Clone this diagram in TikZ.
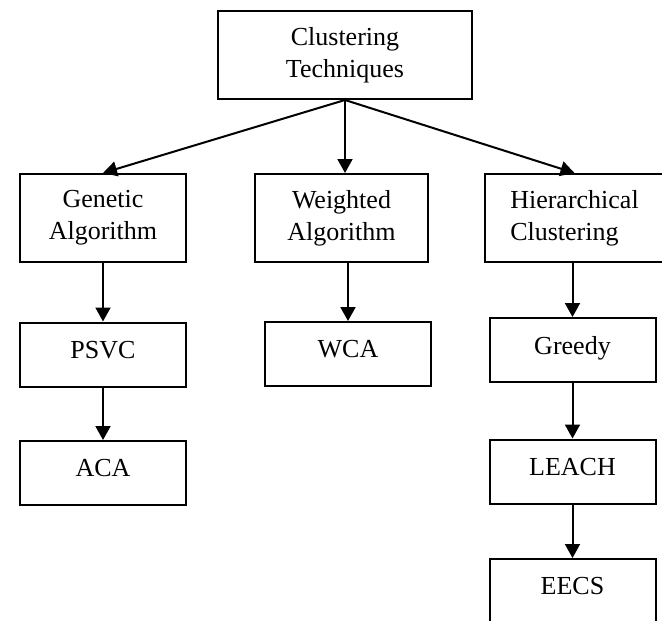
\documentclass[tikz,border=0pt]{standalone}
\usepackage{fontspec}
\setmainfont{Liberation Serif}
\usetikzlibrary{arrows.meta}
\begin{document}
\begin{tikzpicture}[x=1pt, y=-1pt,
    box/.style={draw, line width=2pt, inner sep=0pt, align=center,
        font=\fontsize{26}{32}\selectfont},
    onebox/.style={box, text depth=10pt, minimum height=\hSmall pt},
    arr/.style={line width=2pt, -{Triangle[length=14pt,width=15pt]}}]
    % --- 定义尺寸参数 ---
    \def\hBig{88}     % 两行方框的高度
    \def\hSmall{64}   % 单行方框的高度
    \def\wBox{166}    % 单行方框的宽度

    % --- 固定画布范围 ---
    \useasboundingbox (0,0) rectangle (662,621);

    % --- 顶层方框 ---
    \node[box, minimum width=254pt, minimum height=\hBig pt] (tech) at (345,55) {Clustering\\Techniques};

    % --- 第二层方框 ---
    \node[box, minimum width=\wBox pt, minimum height=\hBig pt] (gen) at (103,218) {Genetic\\Algorithm};
    \node[box, minimum width=173pt, minimum height=\hBig pt] (wgt) at (341.5,218) {Weighted\\Algorithm};
    % 右侧方框超出画布, 文字左对齐
    \node[box, align=left, minimum width=179pt, minimum height=\hBig pt] (hier) at (574.5,218) {Hierarchical\\Clustering};

    % --- 下层方框 ---
    \node[onebox, minimum width=\wBox pt] (psvc) at (103,354.5) {PSVC};
    \node[onebox, minimum width=\wBox pt] (aca) at (103,473) {ACA};
    \node[onebox, minimum width=\wBox pt] (wca) at (348,354) {WCA};
    \node[onebox, minimum width=\wBox pt] (greedy) at (572.5,350) {Greedy};
    \node[onebox, minimum width=\wBox pt] (leach) at (572.5,471.5) {LEACH};
    % 最下面的方框被画布截断
    \node[onebox, minimum width=\wBox pt] (eecs) at (572.5,591) {EECS};

    % --- 连接箭头 ---
    \draw[arr] (tech.south) -- (gen.north);
    \draw[arr] (tech.south) -- (tech.south |- wgt.north);
    \draw[arr] (tech.south) -- (hier.north);

    \draw[arr] (gen.south) -- (psvc.north);
    \draw[arr] (psvc.south) -- (aca.north);
    \draw[arr] (wca.north |- wgt.south) -- (wca.north);
    \draw[arr] (greedy.north |- hier.south) -- (greedy.north);
    \draw[arr] (greedy.south) -- (leach.north);
    \draw[arr] (leach.south) -- (eecs.north);

\end{tikzpicture}
\end{document}
